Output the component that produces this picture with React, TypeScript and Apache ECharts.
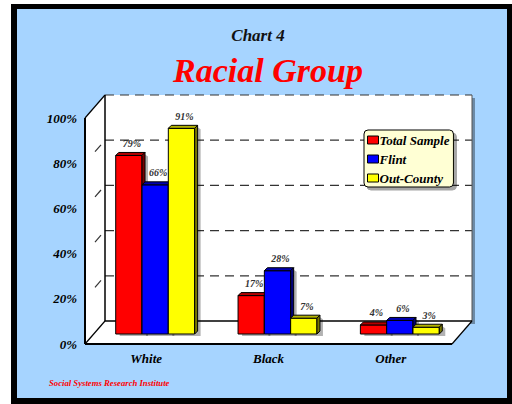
import React, { useEffect, useRef } from "react";
import * as echarts from "echarts";

// Chart 4 — racial group breakdown by sample
const categories = ["White", "Black", "Other"];
const seriesNames = ["Total Sample", "Flint", "Out-County"];
const totalSample = [79, 17, 4];
const flint = [66, 28, 6];
const outCounty = [91, 7, 3];
const yTicks = [0, 20, 40, 60, 80, 100];

const seriesValues = [totalSample, flint, outCounty];

const FRONT = ["#FF0000", "#0000FF", "#FFFF00"];
const TOP = ["#B40000", "#0000B0", "#B4B400"];
const SIDE = ["#780000", "#000078", "#787800"];

const SERIF = "'Liberation Serif', 'Times New Roman', serif";

// perspective of the box: back wall sits up-and-right of the front plane
const DEPTH_X = 20;
const DEPTH_Y = -23;
// bars stand partway back on the floor
const BAR_OX = 9;
const BAR_OY = -10;
// each bar's own thickness
const BAR_D = 3;
const BAR_FRAC = 0.215;

function renderFrame(params: any, api: any) {
  const cs = params.coordSys;
  const x0 = cs.x;
  const x1 = cs.x + cs.width;
  const yT = cs.y;
  const yB = cs.y + cs.height;
  const bx0 = x0 + DEPTH_X;
  const bx1 = x1 + DEPTH_X;
  const byT = yT + DEPTH_Y;
  const byB = yB + DEPTH_Y;
  const children: any[] = [];

  // drop shadow behind the back wall
  children.push({
    type: "rect",
    shape: { x: bx0 + 3, y: byT + 3, width: bx1 - bx0, height: byB - byT },
    style: { fill: "rgba(0,0,0,0.35)" },
  });
  // back wall
  children.push({
    type: "rect",
    shape: { x: bx0, y: byT, width: bx1 - bx0, height: byB - byT },
    style: { fill: "#FFFFFF" },
  });
  // left wall
  children.push({
    type: "polygon",
    shape: { points: [[x0, yT], [bx0, byT], [bx0, byB], [x0, yB]] },
    style: { fill: "#FFFFFF" },
  });
  // floor
  children.push({
    type: "polygon",
    shape: { points: [[x0, yB], [bx0, byB], [bx1, byB], [x1, yB]] },
    style: { fill: "#FFFFFF" },
  });

  // gridlines on the back wall and short dashes across the side wall
  yTicks
    .filter((v) => v > 0 && v < 100)
    .forEach((v) => {
      const y = api.coord([0, v])[1];
      children.push({
        type: "line",
        shape: { x1: bx0, y1: y + DEPTH_Y, x2: bx1, y2: y + DEPTH_Y },
        style: { stroke: "#333", lineWidth: 1.2, lineDash: [9, 6] },
      });
      children.push({
        type: "line",
        shape: {
          x1: x0 + DEPTH_X * 0.5,
          y1: y + DEPTH_Y * 0.5,
          x2: x0 + DEPTH_X * 0.8,
          y2: y + DEPTH_Y * 0.8,
        },
        style: { stroke: "#333", lineWidth: 1.2 },
      });
    });

  // top edge of the back wall
  children.push({
    type: "line",
    shape: { x1: bx0, y1: byT, x2: bx1, y2: byT },
    style: { stroke: "#333", lineWidth: 1.2, lineDash: [9, 6] },
  });
  // right edge of the back wall
  children.push({
    type: "line",
    shape: { x1: bx1, y1: byT, x2: bx1, y2: byB },
    style: { stroke: "#555", lineWidth: 1 },
  });
  // solid edges
  const solid = (a: number[], b: number[], w: number) => ({
    type: "line",
    shape: { x1: a[0], y1: a[1], x2: b[0], y2: b[1] },
    style: { stroke: "#000", lineWidth: w },
  });
  children.push(solid([bx0, byT], [bx0, byB], 1.5));
  children.push(solid([bx0, byB], [bx1, byB], 1.5));
  children.push(solid([x0, yT], [bx0, byT], 1.2));
  children.push(solid([x0, yB], [bx0, byB], 1.2));
  children.push(solid([x1, yB], [bx1, byB], 1.2));
  children.push(solid([x0, yT], [x0, yB], 2));
  children.push(solid([x0, yB], [x1, yB], 2));

  return { type: "group", children };
}

function makeBarRender(k: number) {
  return (params: any, api: any) => {
    const idx = api.value(0);
    const val = api.value(1);
    const base = api.coord([idx, 0]);
    const top = api.coord([idx, val]);
    const band = api.size([1, 0])[0];
    const w = band * BAR_FRAC;
    const left = base[0] - 1.5 * w + k * w + BAR_OX;
    const right = left + w;
    const yb = base[1] + BAR_OY;
    const yt = top[1] + BAR_OY;
    const edge = { stroke: "#000", lineWidth: 1, lineJoin: "round" };
    return {
      type: "group",
      children: [
        {
          type: "polygon",
          shape: {
            points: [
              [right + BAR_D, yt - BAR_D + 2],
              [right + BAR_D + 3, yt - BAR_D + 4],
              [right + BAR_D + 3, yb + 2],
              [left + 4, yb + 2],
              [left + 4, yb],
              [right + BAR_D, yb - BAR_D],
            ],
          },
          style: { fill: "rgba(0,0,0,0.3)" },
        },
        {
          type: "rect",
          shape: { x: left, y: yt, width: w, height: yb - yt },
          style: { fill: FRONT[k], ...edge },
        },
        {
          type: "polygon",
          shape: {
            points: [
              [left, yt],
              [left + BAR_D, yt - BAR_D],
              [right + BAR_D, yt - BAR_D],
              [right, yt],
            ],
          },
          style: { fill: TOP[k], ...edge },
        },
        {
          type: "polygon",
          shape: {
            points: [
              [right, yt],
              [right + BAR_D, yt - BAR_D],
              [right + BAR_D, yb - BAR_D],
              [right, yb],
            ],
          },
          style: { fill: SIDE[k], ...edge },
        },
        {
          type: "text",
          style: {
            x: left + w / 2 + 3,
            y: yt - 12,
            text: `${val}%`,
            textAlign: "center",
            textVerticalAlign: "middle",
            fontFamily: SERIF,
            fontStyle: "italic",
            fontWeight: "bold",
            fontSize: 10,
            fill: "#333",
          },
        },
      ],
    };
  };
}

export default function App() {
  const ref = useRef<HTMLDivElement>(null);

  useEffect(() => {
    if (!ref.current) return;
    const chart = echarts.init(ref.current, null, { renderer: "svg" });

    const labelFont = {
      fontFamily: SERIF,
      fontStyle: "italic" as const,
      fontWeight: "bold" as const,
      fontSize: 13,
      color: "#000",
    };

    chart.setOption({
      animation: false,
      backgroundColor: "transparent",
      grid: { left: 85, right: 60, top: 118, bottom: 60 },
      xAxis: {
        type: "category",
        data: categories,
        axisLine: { show: false },
        axisTick: { show: false },
        splitLine: { show: false },
        axisLabel: { ...labelFont, margin: 8 },
      },
      yAxis: {
        type: "value",
        min: 0,
        max: 100,
        interval: 20,
        axisLine: { show: false },
        axisTick: { show: false },
        splitLine: { show: false },
        axisLabel: { ...labelFont, margin: 8, formatter: "{value}%" },
      },
      legend: {
        orient: "vertical",
        left: 364,
        top: 130,
        selectedMode: false,
        data: seriesNames.map((n, i) => ({
          name: n,
          icon: "rect",
          itemStyle: { color: FRONT[i], borderColor: "#000", borderWidth: 1 },
        })),
        itemWidth: 11,
        itemHeight: 8,
        itemGap: 5,
        padding: [3, 4, 2, 3],
        backgroundColor: "#FFFFD4",
        borderColor: "#000",
        borderWidth: 1,
        borderRadius: 4,
        shadowColor: "rgba(0,0,0,0.35)",
        shadowOffsetX: 3,
        shadowOffsetY: 3,
        shadowBlur: 0,
        textStyle: { ...labelFont, lineHeight: 14, padding: [0, 0, 0, -4] },
      },
      graphic: [
        {
          type: "text",
          x: 258,
          y: 35,
          style: {
            text: "Chart 4",
            textAlign: "center",
            textVerticalAlign: "middle",
            fontFamily: SERIF,
            fontStyle: "italic",
            fontWeight: "bold",
            fontSize: 17,
            fill: "#111",
          },
        },
        {
          type: "text",
          x: 268,
          y: 70,
          style: {
            text: "Racial Group",
            textAlign: "center",
            textVerticalAlign: "middle",
            fontFamily: SERIF,
            fontStyle: "italic",
            fontWeight: "bold",
            fontSize: 34,
            fill: "#FF0000",
          },
        },
        {
          type: "text",
          x: 49,
          y: 383,
          style: {
            text: "Social Systems Research Institute",
            textAlign: "left",
            textVerticalAlign: "middle",
            fontFamily: SERIF,
            fontStyle: "italic",
            fontWeight: "bold",
            fontSize: 8.7,
            fill: "#FF0000",
          },
        },
      ],
      series: [
        {
          type: "custom",
          name: "frame",
          renderItem: renderFrame,
          data: [[0, 0]],
          encode: { x: 0, y: 1 },
          silent: true,
          z: 1,
        },
        ...seriesNames.map((name, k) => ({
          type: "custom",
          name,
          renderItem: makeBarRender(k),
          data: seriesValues[k].map((v, i) => [i, v]),
          encode: { x: 0, y: 1 },
          itemStyle: { color: FRONT[k] },
          z: 2,
        })),
      ],
    });

    return () => chart.dispose();
  }, []);

  return (
    <div
      style={{
        position: "fixed",
        left: 0,
        top: 0,
        width: 512,
        height: 404,
        background: "#FFFFFF",
        overflow: "hidden",
      }}
    >
      <div
        style={{
          position: "absolute",
          left: 11,
          top: 4,
          width: 510,
          height: 410,
          background: "#000",
        }}
      />
      <div
        style={{
          position: "absolute",
          left: 17,
          top: 9,
          width: 490,
          height: 389,
          background: "#A6D4FF",
        }}
      />
      <div
        ref={ref}
        style={{ position: "absolute", left: 0, top: 0, width: 512, height: 404 }}
      />
    </div>
  );
}
